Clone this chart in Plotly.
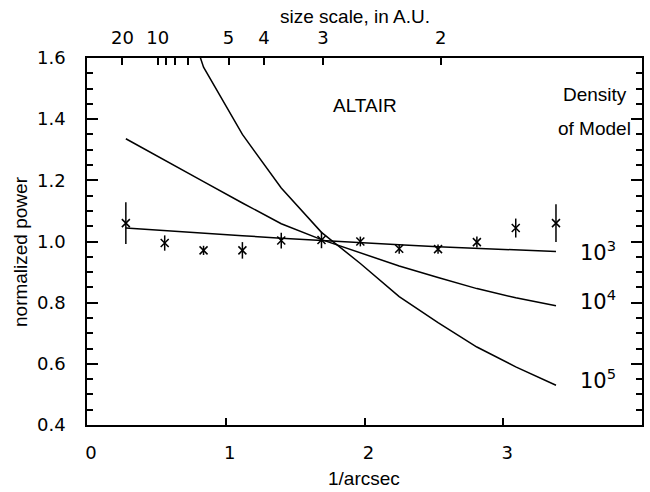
import plotly.graph_objects as go

# spatial frequency (1/arcsec)
freq = [0.28, 0.56, 0.84, 1.12, 1.40, 1.69, 1.97, 2.25, 2.53, 2.81, 3.09, 3.38]
# measured normalized power and errors
power = [1.060, 0.995, 0.971, 0.971, 1.003, 1.005, 1.000, 0.976, 0.975, 0.998, 1.044, 1.060]
power_err = [0.068, 0.025, 0.015, 0.027, 0.026, 0.027, 0.016, 0.016, 0.015, 0.018, 0.031, 0.062]
# model curves for three densities
model_1e3 = [1.044, 1.035, 1.027, 1.019, 1.011, 1.003, 0.996, 0.989, 0.983, 0.977, 0.972, 0.967]
model_1e4 = [1.336, 1.267, 1.196, 1.126, 1.058, 1.006, 0.963, 0.920, 0.882, 0.846, 0.816, 0.790]
model_1e5 = [2.50, 1.95, 1.57, 1.35, 1.175, 1.03, 0.928, 0.820, 0.735, 0.655, 0.590, 0.530]
model_labels = ["10<sup>3</sup>", "10<sup>4</sup>", "10<sup>5</sup>"]
# top axis: size scale in AU
size_au = [20, 10, 9, 8, 7, 5, 4, 3, 2]
size_labels = ["20", "10", "", "", "", "5", "4", "3", "2"]
DIST_PC = 5.1

TXT = "Liberation Sans"
NUM = "DejaVu Sans"
BLACK = "#000000"

fig = go.Figure()
for m in (model_1e3, model_1e4, model_1e5):
    fig.add_trace(go.Scatter(x=freq, y=m, mode="lines",
                             line=dict(color=BLACK, width=1.5), showlegend=False))
fig.add_trace(go.Scatter(
    x=freq, y=power, mode="markers",
    marker=dict(symbol="x-thin", size=8, line=dict(color=BLACK, width=1.5), color=BLACK),
    error_y=dict(type="data", array=power_err, visible=True, color=BLACK, thickness=1.5, width=0),
    showlegend=False))
# invisible trace for top axis
fig.add_trace(go.Scatter(x=[0], y=[0.4], xaxis="x2", mode="markers",
                         marker=dict(opacity=0), showlegend=False, hoverinfo="skip"))

top_pos = [DIST_PC / s for s in size_au]

# plot area pixels: left 87, right 642, top 58, bottom 425
PL, PR, PT, PB = 87, 642, 58, 425
PW, PH = PR - PL, PB - PT


def px(xp):
    return (xp - PL) / PW


def py(yp):
    return (PB - yp) / PH


fig.update_layout(
    width=650, height=492,
    margin=dict(l=PL, r=650 - PR, t=PT, b=492 - PB, autoexpand=False),
    paper_bgcolor="white", plot_bgcolor="white",
    font=dict(family=TXT, size=19, color=BLACK),
    xaxis=dict(range=[0, 4.0], tickvals=[0, 1, 2, 3], ticktext=["0", "1", "2", "3"],
               ticks="inside", ticklen=7, tickwidth=1.5, tickcolor=BLACK,
               showline=True, linecolor=BLACK, linewidth=1.5, mirror=True,
               showgrid=False, zeroline=False, ticklabelstandoff=11, ticklabelshift=4,
               tickfont=dict(family=NUM, size=18)),
    xaxis2=dict(range=[0, 4.0], overlaying="x", side="top", anchor="y",
                tickvals=top_pos, ticktext=size_labels,
                ticks="inside", ticklen=7, tickwidth=1.5, tickcolor=BLACK,
                showline=False, showgrid=False, zeroline=False, ticklabelstandoff=9,
                tickfont=dict(family=NUM, size=18)),
    yaxis=dict(range=[0.4, 1.6], tickvals=[0.4, 0.6, 0.8, 1.0, 1.2, 1.4, 1.6],
               ticktext=["0.4", "0.6", "0.8", "1.0", "1.2", "1.4", "1.6"],
               ticks="inside", ticklen=11, tickwidth=1.5, tickcolor=BLACK,
               minor=dict(dtick=0.05, ticks="inside", ticklen=6, tickwidth=1.5, tickcolor=BLACK),
               showline=True, linecolor=BLACK, linewidth=1.5, mirror="ticks",
               showgrid=False, zeroline=False, ticklabelstandoff=16,
               tickfont=dict(family=NUM, size=18)),
    annotations=[
        dict(x=px(355), y=py(16), xref="paper", yref="paper", text="size scale, in A.U.",
             showarrow=False, xanchor="center", yanchor="middle", font=dict(size=19)),
        dict(x=px(364), y=py(478), xref="paper", yref="paper", text="1/arcsec",
             showarrow=False, xanchor="center", yanchor="middle", font=dict(size=19)),
        dict(x=px(20), y=py(252), xref="paper", yref="paper", text="normalized power",
             textangle=-90, showarrow=False, xanchor="center", yanchor="middle",
             font=dict(size=19)),
        dict(x=2.0, y=1.445, xref="x", yref="y", text="ALTAIR", showarrow=False,
             font=dict(size=19)),
        dict(x=3.66, y=1.48, xref="x", yref="y", text="Density", showarrow=False,
             font=dict(size=19)),
        dict(x=3.66, y=1.37, xref="x", yref="y", text="of Model", showarrow=False,
             font=dict(size=19)),
        dict(x=3.68, y=0.97, xref="x", yref="y", text=model_labels[0], showarrow=False,
             font=dict(family=NUM, size=21)),
        dict(x=3.68, y=0.81, xref="x", yref="y", text=model_labels[1], showarrow=False,
             font=dict(family=NUM, size=21)),
        dict(x=3.68, y=0.55, xref="x", yref="y", text=model_labels[2], showarrow=False,
             font=dict(family=NUM, size=21)),
    ],
)

fig.write_html("out.html", config={"displayModeBar": False},
               post_script="document.body.style.margin='0';document.body.style.padding='0';")
